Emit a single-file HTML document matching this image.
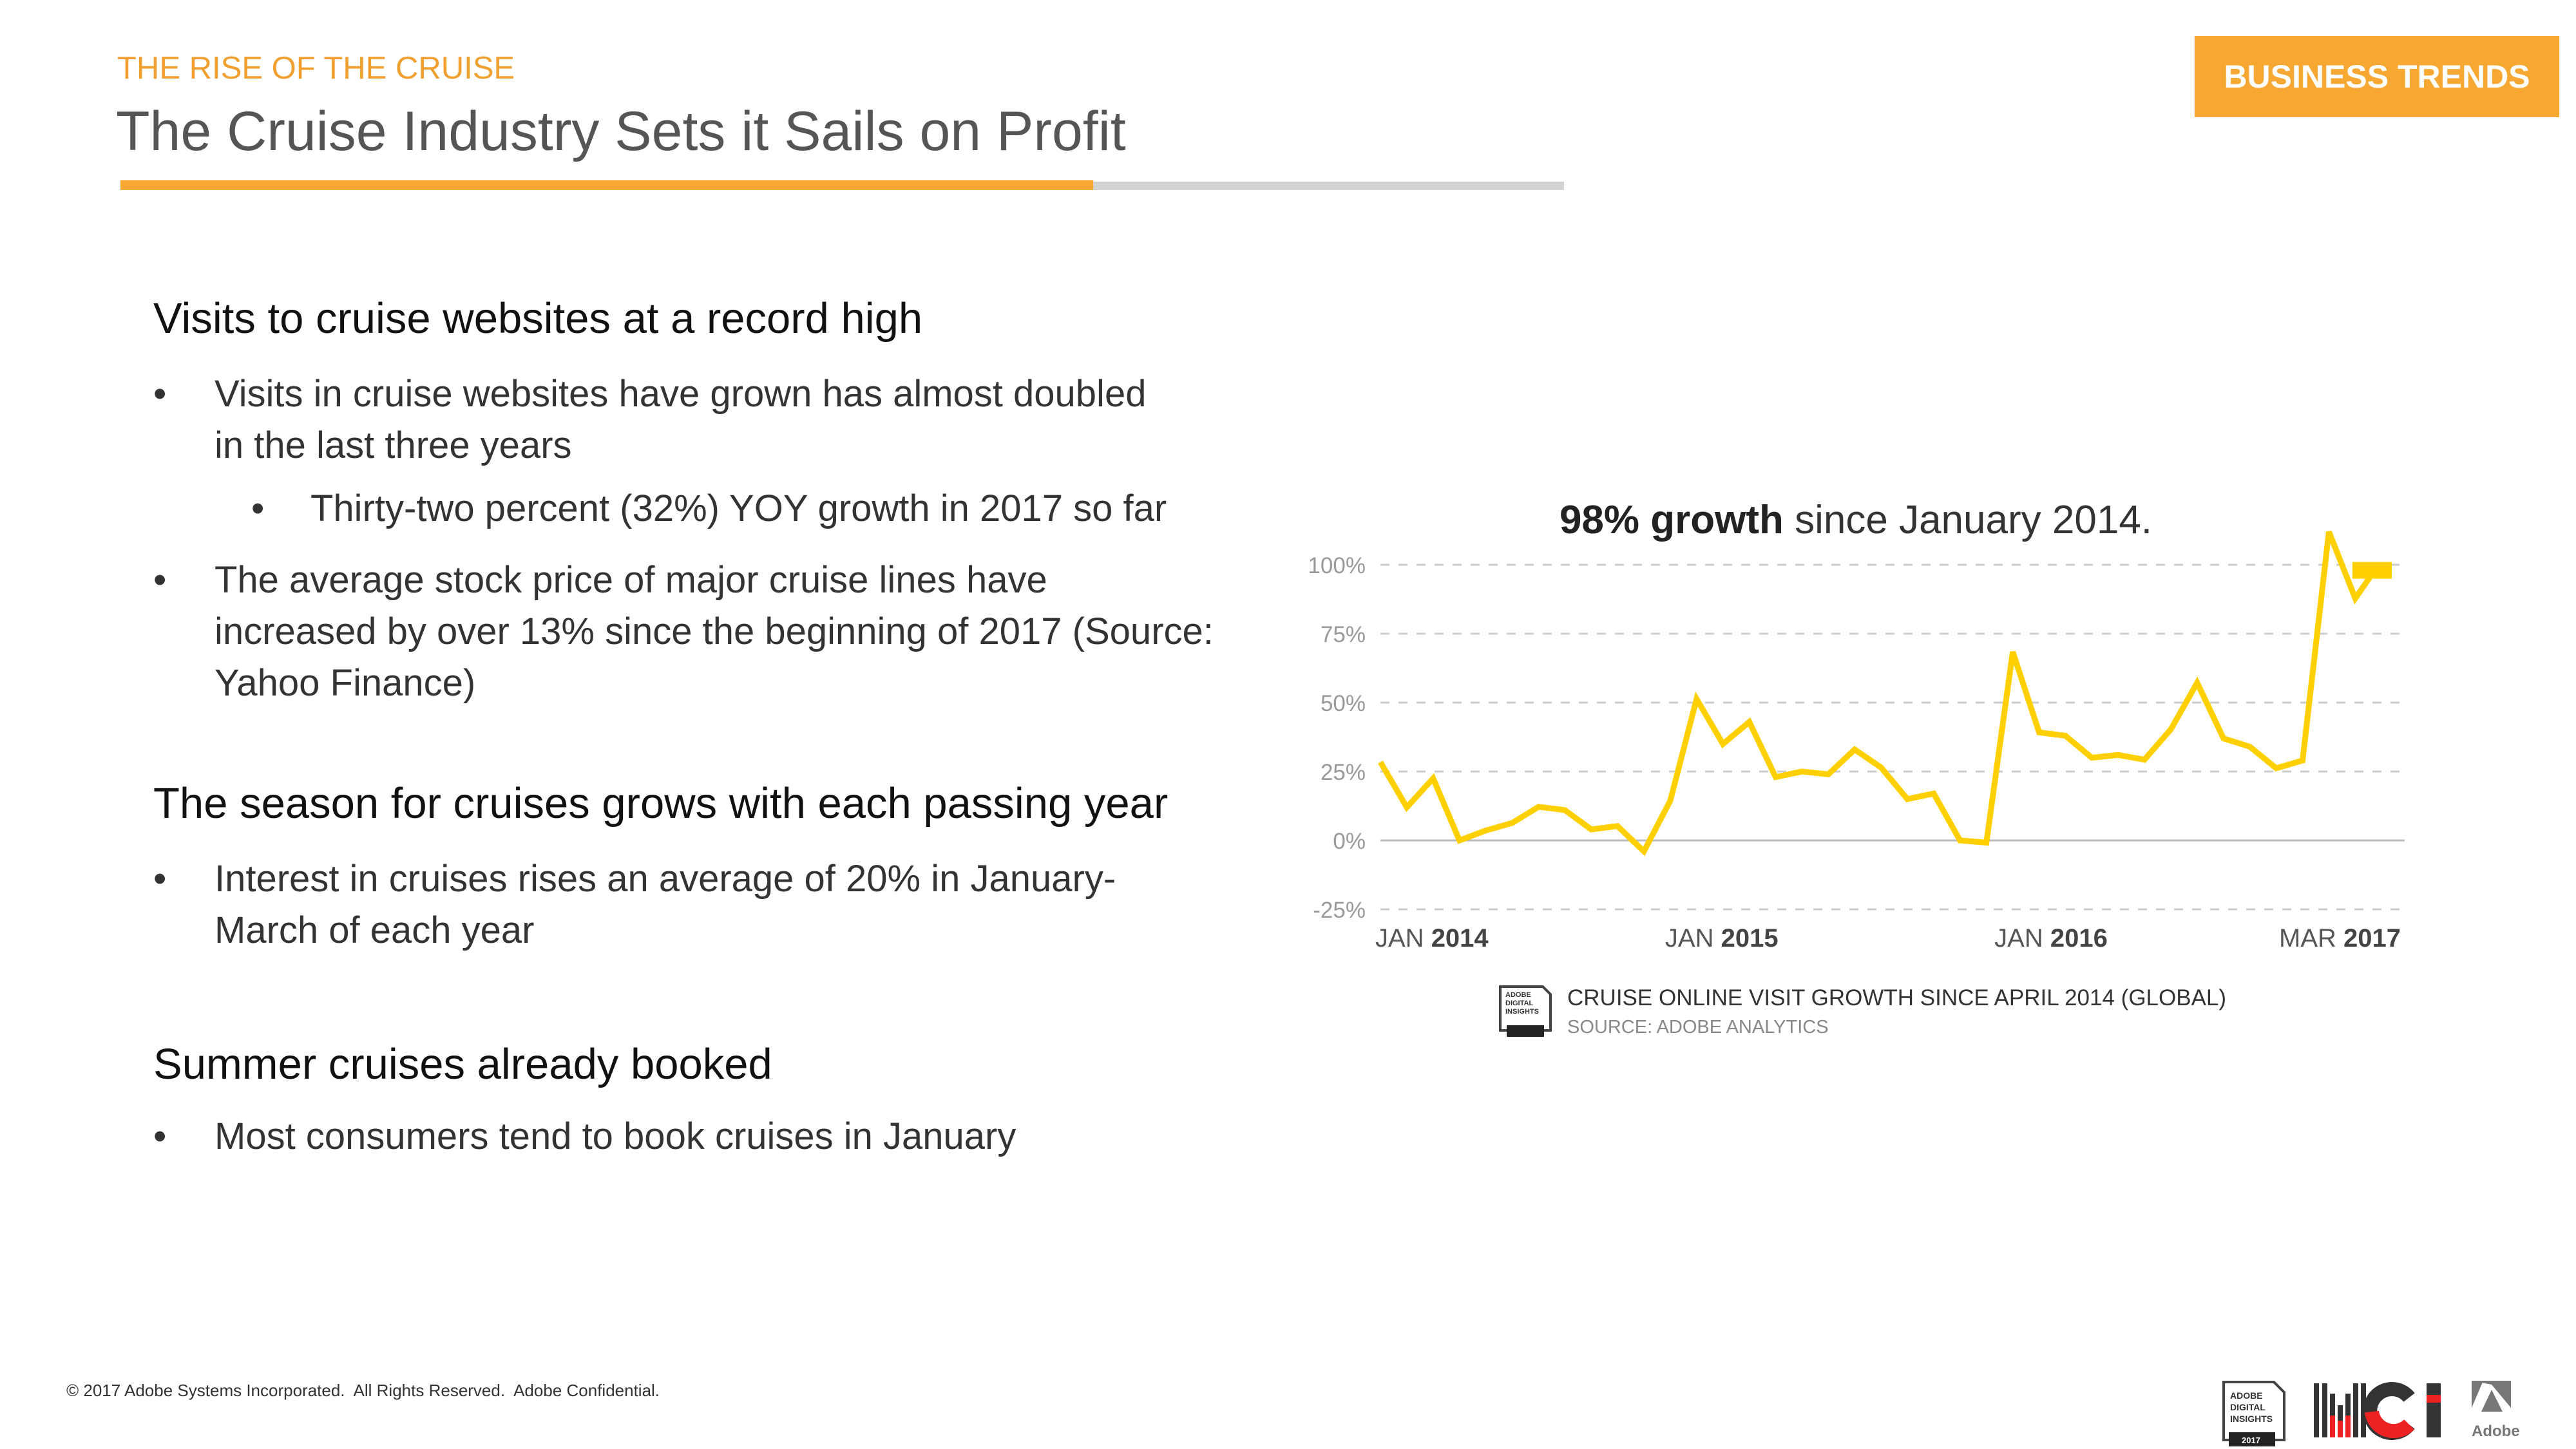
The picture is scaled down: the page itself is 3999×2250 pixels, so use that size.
<!DOCTYPE html>
<html><head><meta charset="utf-8">
<style>
html,body{margin:0;padding:0;background:#fff;}
body{width:3999px;height:2250px;position:relative;overflow:hidden;font-family:"Liberation Sans",sans-serif;}
.abs{position:absolute;white-space:nowrap;}
.h{font-size:67px;color:#111;}
.b{font-size:58px;color:#333;}
</style></head>
<body>
<div class="abs" style="left:182px;top:78px;font-size:49px;color:#F0A030;">THE RISE OF THE CRUISE</div>
<div class="abs" style="left:180px;top:155px;font-size:86px;color:#555;">The Cruise Industry Sets it Sails on Profit</div>
<div class="abs" style="left:187px;top:282px;width:2241px;height:13px;background:#d2d2d2;"></div>
<div class="abs" style="left:187px;top:280px;width:1510px;height:15px;background:#F7A833;"></div>
<div class="abs" style="left:3407px;top:56px;width:566px;height:126px;background:#F7A833;color:#fff;font-weight:bold;font-size:50px;line-height:126px;text-align:center;">BUSINESS TRENDS</div>

<div class="abs h" style="left:238px;top:456px;">Visits to cruise websites at a record high</div>
<div class="abs b" style="left:238px;top:572px;line-height:80px;"><span style="position:absolute;left:0">•</span><span style="position:absolute;left:95px">Visits in cruise websites have grown has almost doubled<br>in the last three years</span></div>
<div class="abs b" style="left:390px;top:756px;"><span style="position:absolute;left:0">•</span><span style="position:absolute;left:92px">Thirty-two percent (32%) YOY growth in 2017 so far</span></div>
<div class="abs b" style="left:238px;top:861px;line-height:80px;"><span style="position:absolute;left:0">•</span><span style="position:absolute;left:95px">The average stock price of major cruise lines have<br>increased by over 13% since the beginning of 2017 (Source:<br>Yahoo Finance)</span></div>
<div class="abs h" style="left:238px;top:1209px;">The season for cruises grows with each passing year</div>
<div class="abs b" style="left:238px;top:1325px;line-height:80px;"><span style="position:absolute;left:0">•</span><span style="position:absolute;left:95px">Interest in cruises rises an average of 20% in January-<br>March of each year</span></div>
<div class="abs h" style="left:238px;top:1614px;">Summer cruises already booked</div>
<div class="abs b" style="left:238px;top:1731px;"><span style="position:absolute;left:0">•</span><span style="position:absolute;left:95px">Most consumers tend to book cruises in January</span></div>

<svg id="chart" class="abs" style="left:0;top:0;" width="3999" height="2250">
<text x="2881" y="828" text-anchor="middle" font-size="62" fill="#333"><tspan font-weight="bold" fill="#222">98% growth</tspan> since January 2014.</text>
<g id="grid"></g><g id="ylabels"></g><g id="xlabels"></g>
<path id="line" fill="none" stroke="#FFD000" stroke-width="9" stroke-linejoin="miter"/>
<rect id="marker" fill="#FFD000"/>
</svg>

<svg class="abs" style="left:2325px;top:1528px;" width="86" height="84"><path d="M4 4 H70 L82 16 V72 H4 Z" fill="#fff" stroke="#444" stroke-width="4"/><rect x="14" y="64" width="58" height="18" fill="#222"/><text x="12" y="20" font-size="11" font-weight="bold" fill="#333">ADOBE</text><text x="12" y="33" font-size="11" font-weight="bold" fill="#333">DIGITAL</text><text x="12" y="46" font-size="11" font-weight="bold" fill="#333">INSIGHTS</text></svg>
<div class="abs" style="left:2433px;top:1530px;font-size:35px;color:#333;">CRUISE ONLINE VISIT GROWTH SINCE APRIL 2014 (GLOBAL)</div>
<div class="abs" style="left:2433px;top:1579px;font-size:29px;color:#888;">SOURCE: ADOBE ANALYTICS</div>

<div class="abs" style="left:103px;top:2144px;font-size:26px;color:#333;">© 2017 Adobe Systems Incorporated.&nbsp; All Rights Reserved.&nbsp; Adobe Confidential.</div>
<svg class="abs" style="left:3400px;top:2120px;" width="599" height="130">
<path d="M52 26 H130 L146 42 V116 H52 Z" fill="#fff" stroke="#444" stroke-width="4"/><rect x="60" y="104" width="72" height="22" fill="#222"/>
<text x="62" y="52" font-size="14" font-weight="bold" fill="#333">ADOBE</text><text x="62" y="70" font-size="14" font-weight="bold" fill="#333">DIGITAL</text><text x="62" y="88" font-size="14" font-weight="bold" fill="#333">INSIGHTS</text><text x="80" y="121" font-size="13" font-weight="bold" fill="#fff">2017</text>
<rect x="192" y="28" width="8" height="84" fill="#333"/><rect x="205" y="28" width="8" height="84" fill="#333"/><rect x="217" y="44" width="8" height="68" fill="#333"/><rect x="217" y="78" width="8" height="34" fill="#e22"/><rect x="229" y="62" width="8" height="50" fill="#333"/><rect x="229" y="86" width="8" height="26" fill="#e22"/><rect x="241" y="44" width="8" height="68" fill="#333"/><rect x="241" y="78" width="8" height="34" fill="#e22"/><rect x="253" y="28" width="8" height="84" fill="#333"/><rect x="265" y="28" width="8" height="84" fill="#333"/>
<path d="M340 50 A34 34 0 1 0 340 92" fill="none" stroke="#333" stroke-width="22"/><path d="M282 72 A34 34 0 0 0 340 92" fill="none" stroke="#e22" stroke-width="22"/>
<rect x="367" y="28" width="22" height="84" fill="#333"/><rect x="367" y="46" width="22" height="12" fill="#e22"/>
<path d="M437 24 H498 V66 L468 30 Z" fill="#777"/><path d="M437 24 V66 L455 24 Z" fill="#777"/><path d="M480 24 L498 66 V24Z" fill="#777"/><path d="M468 38 L485 72 H452 Z" fill="#777"/>
<text x="437" y="110" font-size="24" font-weight="bold" fill="#777">Adobe</text>
</svg>

<script>
const yTicks = [-25, 0, 25, 50, 75, 100];
const yTickLabels = ["-25%", "0%", "25%", "50%", "75%", "100%"];
const xLabelIdx = [0, 11, 23.5, 38];
const xLabelMonth = ["JAN", "JAN", "JAN", "MAR"];
const xLabelYear = ["2014", "2015", "2016", "2017"];
const growth = [28.4, 12, 22.5, 0, 3.6, 6.3, 12.2, 11, 4, 5.2, -4, 14.4, 51.3, 35, 43, 23, 25, 24, 33, 26.5, 15, 17, 0, -0.8, 68.4, 39.2, 38, 30, 31, 29.3, 40.3, 57.2, 37, 34, 26.2, 29, 112, 87.8, 95.4];
const currentValue = 98;

const X0 = 2143, STEP = 40.9, Y0 = 1305, PPP = 4.28;
const N = growth.length;
const xs = i => X0 + (i >= N - 1 ? i - 0.45 : i) * STEP;
const ys = v => Y0 - v * PPP;
const NS = "http://www.w3.org/2000/svg";
const grid = document.getElementById('grid'), yl = document.getElementById('ylabels'), xl = document.getElementById('xlabels');
yTicks.forEach((t, k) => {
  const l = document.createElementNS(NS, 'line');
  
  
  l.setAttribute('x1', 2143); l.setAttribute('x2', 3733);
  l.setAttribute('y1', ys(t)); l.setAttribute('y2', ys(t));
  l.setAttribute('stroke', t === 0 ? '#bbb' : '#ccc');
  l.setAttribute('stroke-width', 3);
  if (t !== 0) l.setAttribute('stroke-dasharray', '14 14');
  grid.appendChild(l);
  const tx = document.createElementNS(NS, 'text');
  
  
  tx.setAttribute('x', 2120); tx.setAttribute('y', ys(t) + 13);
  tx.setAttribute('text-anchor', 'end'); tx.setAttribute('font-size', 35); tx.setAttribute('fill', '#999');
  tx.textContent = yTickLabels[k];
  yl.appendChild(tx);
});
xLabelIdx.forEach((idx, k) => {
  const tx = document.createElementNS(NS, 'text');
  
  
  const last = k === xLabelIdx.length - 1;
  tx.setAttribute('x', last ? 3727 : X0 + idx * STEP - 8);
  tx.setAttribute('text-anchor', last ? 'end' : 'start');
  tx.setAttribute('y', 1470); tx.setAttribute('font-size', 40); tx.setAttribute('fill', '#555');
  tx.innerHTML = xLabelMonth[k] + ' <tspan font-weight="bold" fill="#444">' + xLabelYear[k] + '</tspan>';
  xl.appendChild(tx);
});
document.getElementById('line').setAttribute('d', growth.map((v, i) => (i ? 'L' : 'M') + xs(i).toFixed(1) + ' ' + ys(v).toFixed(1)).join(' '));
const m = document.getElementById('marker');
const lx = xs(N - 1);
m.setAttribute('x', lx - 27); m.setAttribute('width', 3713 - lx + 27);
m.setAttribute('y', ys(currentValue) - 13); m.setAttribute('height', 26);
</script>
</body></html>
